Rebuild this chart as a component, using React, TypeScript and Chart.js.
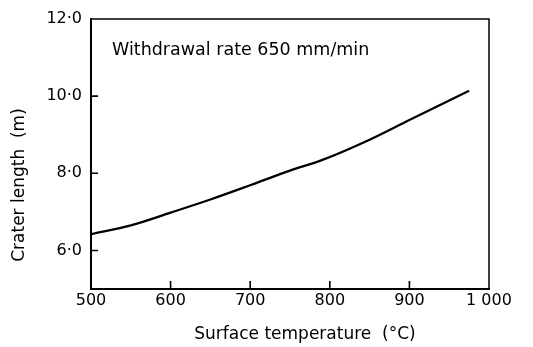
import React, { useEffect, useRef } from "react";
import { Chart, registerables } from "chart.js";

Chart.register(...registerables);

// Crater length against surface temperature
const temperatures = [500, 550, 600, 650, 700, 750, 790, 850, 900, 975];
const craterLengths = [6.42, 6.65, 6.98, 7.32, 7.69, 8.07, 8.34, 8.87, 9.38, 10.14];

const xTickValues = [500, 600, 700, 800, 900, 1000];
const xTickLabels = ["500", "600", "700", "800", "900", "1 000"];
const yTickValues = [6, 8, 10, 12];
const yTickLabels = ["6·0", "8·0", "10·0", "12·0"];

const noteText = "Withdrawal rate 650 mm/min";
const xTitle = "Surface temperature  (°C)";
const yTitle = "Crater length  (m)";

const FONT = "'DejaVu Sans', sans-serif";

// Frame around the plot area, inward tick marks and the free-standing texts
const framePlugin = {
  id: "frameAndTexts",
  afterDraw(chart: any) {
    const { ctx, chartArea, scales } = chart;
    const { left, right, top, bottom } = chartArea;
    ctx.save();
    ctx.strokeStyle = "#000";
    ctx.lineWidth = 1.5;
    ctx.beginPath();
    ctx.moveTo(left, top);
    ctx.lineTo(right, top);
    ctx.lineTo(right, bottom);
    ctx.stroke();

    // inward ticks
    ctx.lineWidth = 1.6;
    ctx.beginPath();
    xTickValues.forEach((v) => {
      if (v <= scales.x.min || v >= scales.x.max) return;
      const px = scales.x.getPixelForValue(v);
      ctx.moveTo(px, bottom);
      ctx.lineTo(px, bottom - 8);
    });
    yTickValues.forEach((v) => {
      if (v <= scales.y.min || v >= scales.y.max) return;
      const py = scales.y.getPixelForValue(v);
      ctx.moveTo(left, py);
      ctx.lineTo(left + 7, py);
    });
    ctx.stroke();

    ctx.fillStyle = "#000";
    ctx.font = `17.5px ${FONT}`;
    ctx.textBaseline = "middle";
    ctx.textAlign = "left";
    ctx.fillText(noteText, left + 21, top + 31);

    ctx.font = `17px ${FONT}`;
    ctx.textAlign = "center";
    ctx.fillText(xTitle, left + 214, bottom + 46);

    ctx.translate(left - 71, top + 166);
    ctx.rotate(-Math.PI / 2);
    ctx.fillText(yTitle, 0, 0);
    ctx.restore();
  },
};

export default function App() {
  const canvasRef = useRef<HTMLCanvasElement | null>(null);

  useEffect(() => {
    if (!canvasRef.current) return;
    const chart = new Chart(canvasRef.current, {
      type: "line",
      data: {
        datasets: [
          {
            data: temperatures.map((t, i) => ({ x: t, y: craterLengths[i] })),
            borderColor: "#000",
            borderWidth: 2.3,
            pointRadius: 0,
            cubicInterpolationMode: "monotone",
            fill: false,
          },
        ],
      },
      options: {
        responsive: false,
        animation: false,
        layout: { padding: { top: 19, right: 44, left: 0, bottom: 0 } },
        plugins: {
          legend: { display: false },
          tooltip: { enabled: false },
        },
        scales: {
          x: {
            type: "linear",
            min: 500,
            max: 1000,
            afterBuildTicks: (scale: any) => {
              scale.ticks = xTickValues.map((v) => ({ value: v }));
            },
            afterFit: (scale: any) => {
              scale.height = 58;
            },
            ticks: {
              autoSkip: false,
              maxRotation: 0,
              padding: 2,
              color: "#000",
              font: { family: FONT, size: 16 },
              callback: (v: any) => xTickLabels[xTickValues.indexOf(Number(v))] ?? "",
            },
            grid: {
              drawOnChartArea: false,
              drawTicks: false,
              tickLength: 0,
            },
            border: { display: true, color: "#000", width: 2 },
          },
          y: {
            type: "linear",
            min: 5,
            max: 12,
            afterBuildTicks: (scale: any) => {
              scale.ticks = yTickValues.map((v) => ({ value: v }));
            },
            afterFit: (scale: any) => {
              scale.width = 91;
            },
            ticks: {
              autoSkip: false,
              padding: 9,
              color: "#000",
              font: { family: FONT, size: 16 },
              callback: (v: any) => yTickLabels[yTickValues.indexOf(Number(v))] ?? "",
            },
            grid: {
              drawOnChartArea: false,
              drawTicks: false,
              tickLength: 0,
            },
            border: { display: true, color: "#000", width: 2 },
          },
        },
      },
      plugins: [framePlugin],
    } as any);
    return () => chart.destroy();
  }, []);

  return (
    <div style={{ position: "fixed", left: 0, top: 0, width: 533, height: 347, background: "#fff" }}>
      <canvas ref={canvasRef} width={533} height={347} />
    </div>
  );
}
